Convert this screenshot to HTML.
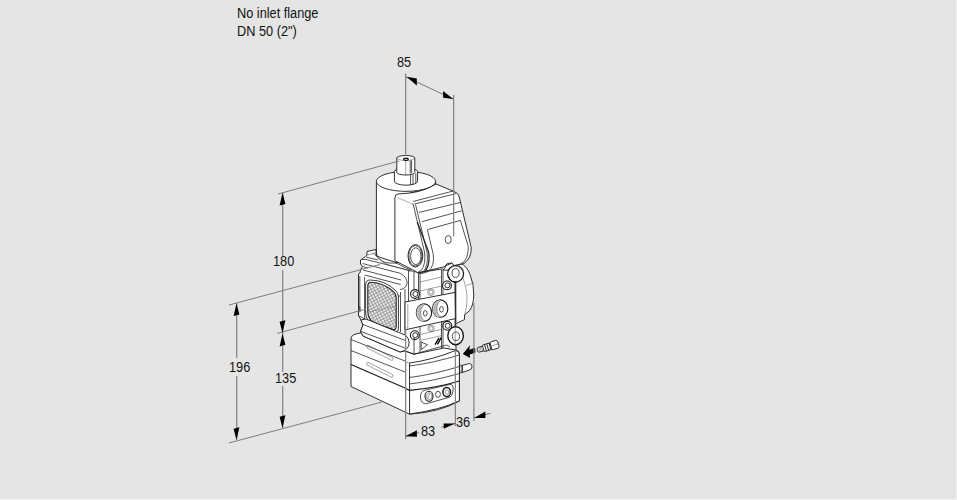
<!DOCTYPE html>
<html><head><meta charset="utf-8">
<style>
html,body{margin:0;padding:0;}
body{width:957px;height:500px;background:#e5e5e5;position:relative;overflow:hidden;font-family:"Liberation Sans",sans-serif;}
.edge-r{position:absolute;right:0;top:0;width:1px;height:500px;background:#f2f2f2;}
.edge-b{position:absolute;left:0;bottom:0;width:957px;height:1px;background:#f2f2f2;}
.t{position:absolute;font-size:14px;line-height:18px;color:#111;white-space:nowrap;transform:scaleX(0.91);transform-origin:0 0;}
svg{position:absolute;left:0;top:0;}
.dm{stroke:#7c7c7c;stroke-width:1;fill:none;}
.ar{fill:#000;stroke:none;}
.v{stroke:#858585;stroke-width:1.25;}
.o{stroke:#1a1a1a;stroke-width:0.9;fill:#fff;stroke-linejoin:round;}
.l{stroke:#1a1a1a;stroke-width:0.75;fill:none;}
.th{stroke:#444;stroke-width:0.5;fill:none;}
</style></head>
<body>
<div class="t" style="left:236.6px;top:4px;">No inlet flange</div>
<div class="t" style="left:236.6px;top:22px;">DN 50 (2")</div>
<div class="t" style="left:397px;top:53px;">85</div>
<div class="t" style="left:273px;top:252px;">180</div>
<div class="t" style="left:229px;top:358px;">196</div>
<div class="t" style="left:275px;top:369px;">135</div>
<div class="t" style="left:420.8px;top:422px;">83</div>
<div class="t" style="left:456px;top:412.5px;">36</div>
<svg width="957" height="500" viewBox="0 0 957 500">
 <defs>
  <pattern id="mesh" x="0" y="0" width="2.9" height="2.9" patternUnits="userSpaceOnUse" patternTransform="rotate(-28)">
   <rect width="2.9" height="2.9" fill="#8f8f8f"/>
   <rect x="0.8" y="0.8" width="2" height="2" fill="#f8f8f8"/>
  </pattern>
 </defs>
 <!-- ===== DEVICE ===== -->
 <g id="dev">
  <!-- right bulge behind -->
  <path class="o" d="M460,263 Q467,266 470,274.5 Q474,284 473.8,295 Q473.5,305 469.7,310.5 L464.5,315 L464.5,319.5 L458.5,322.5 L455,324 L455,266 Z"/>
  <path class="th" d="M456.2,282.7 L456.2,322 M463.2,278.2 Q466.4,287 467,296 Q467,308 464.5,315 M466.4,285.4 L473.6,283"/>

  <!-- lower actuator box: left face -->
  <path class="o" d="M351,339 Q351,335 356,334 L372,330 L456,350 Q459.4,351 459.4,354 L459.4,401 Q440,412 409.6,414.2 L351,386.5 Z"/>
  <path class="l" d="M351,339.5 L405,361 M351,350.5 L405,372 M405.5,361 L405.5,413.5"/>
  <path class="l" style="stroke-width:1.2" d="M351,364.5 L405,388"/>
  <path class="th" d="M367.5,345 L392.5,357.5 Q394,360 392,360.5 L367,348 Q366,346 367.5,345 Z M367.5,362 L392.5,374.5 Q394,377 392,377.5 L367,365 Q366,363 367.5,362 Z"/>
  <!-- front face -->
  <path class="o" d="M409.5,363 Q432,360 455.5,350.5 Q459.4,351 459.4,354.5 L459.4,400.8 Q440,410 409.6,414 Z"/>
  <path class="l" d="M409.5,366 Q433,363 459.4,355 M409.5,377.5 Q433,374.5 459.4,366.5 M409.5,384 Q433,381 459.4,373.5"/>
  <path class="l" style="stroke-width:1.2" d="M405,388.2 L409.6,390.4 Q436,388 459.4,381"/>
  <path class="th" d="M405.5,361 Q406,363 409.5,363"/>
  <!-- holes panel -->
  <path class="l" d="M424.9,390.2 L449.9,384.4 Q454,384 453,391 Q452,396.5 449.9,397.2 L426.8,403.6 Q421,404.5 420.4,397 Q420.5,391 424.9,390.2 Z"/>
  <ellipse class="l" style="stroke-width:1.1" cx="429" cy="396.3" rx="4" ry="5"/>
  <ellipse class="th" cx="429.2" cy="396.3" rx="2.6" ry="3.4"/>
  <path class="th" d="M427.5,399 L430,393"/>
  <ellipse class="l" cx="438" cy="394.3" rx="2.4" ry="3"/>
  <ellipse class="l" style="stroke-width:1.5" cx="446.7" cy="392.1" rx="3.8" ry="4.6"/>
  <ellipse class="th" cx="446.9" cy="392.1" rx="1.8" ry="2.2"/>
  <!-- nipple right of box -->
  <path class="o" d="M462,365.5 L469.5,363.5 Q472.5,364 472,367 Q471.5,369.5 469.5,370 L462,372.5 Z"/>
  <ellipse class="l" cx="461" cy="369" rx="1.6" ry="4.2"/>

  <!-- cylinder coil -->
  <path class="o" d="M376.4,181.4 L376.4,255 Q377,261 386,262 L395,262.5 L436,262 L435.6,181.4 Z"/>
  <ellipse class="o" cx="406" cy="181.4" rx="29.6" ry="9.95"/>
  <path class="l" d="M410,192.6 Q425,190.5 433.8,186"/>

  <!-- knob -->
  <path class="o" d="M394.4,171.5 L394.4,181.2 A11.6,4 0 0 0 417.6,181.2 L417.6,171.5 A11.6,3.5 0 0 0 394.4,171.5 Z"/>
  <path class="l" d="M410.6,174.5 L410.6,184.8 M413,174.5 L413,184.3 M415.8,173.5 L415.8,183"/>
  <path class="o" d="M396.8,158 L396.8,172.5 A9,2.5 0 0 0 414.8,172.5 L414.8,158 A9,2.5 0 0 0 396.8,158 Z"/>
  <path class="th" d="M396.8,158 A9,2.5 0 0 0 414.8,158 M405.7,160.5 L405.7,175"/>
  <path class="l" d="M410.2,160.5 L410.2,173.5 M411.6,160.3 L411.6,173.2"/>
  <ellipse style="stroke:#000;stroke-width:1.2;fill:#fff" cx="406" cy="159.3" rx="2.3" ry="1.1"/>

  <!-- upper valve body silhouette -->
  <path class="o" d="M367,251.5 L376,249.5 L376,256 L396,262.5 L455,266 L456,350 L444,348 L414,354.2 L405,351 L400,352 L363,336 L360.5,331.5 L363,325 L361,320 L358.5,315.4 L358.5,274 L360,273 L360.5,270 L362.5,266.5 L360.5,264 L360.5,260 L362,259 L365.5,256.5 L367,255 Z"/>
  <!-- cylinder foot flare -->
  <path class="l" d="M376.4,253 Q377,259 385,262.5 Q391,263.5 395,263 Q399,264 402,266 Q406,268 411,270"/>
  <path class="th" d="M377,257.5 Q382,263 390,265.5 Q400,268 411,271.5"/>
  <path class="th" d="M367,255 L375.5,253 M372,253 L378,256.5"/>
  <!-- flange ribs -->
  <path class="l" d="M362,259.5 L366,259.5 L418,272.5 M366,257 L378,260 M362.5,263.5 L401,273.5 M362.5,266.5 L368,268 M363,270 L401,280 M364.5,275 L400.5,284.5"/>
  <path class="l" d="M401,274 Q406,276 407.2,282.5 Q407,287 403.5,288.5 Q401.5,289.5 400,289.5"/>
  <!-- side frame -->
  <path class="l" d="M358.3,315.4 L364.6,319 M359.8,276 L359.8,312.4 M364.6,277 L364.6,319 M358.3,306.7 L360,307.2 L360,311.8"/>
  <!-- mesh -->
  <path class="o" style="stroke:#222;stroke-width:0.9" d="M365.6,285 Q365.6,279.8 370.5,280 L377.5,280.8 Q384,282 390,286 L395,290 Q398.4,292.8 398.4,297 L398.4,328 Q398.4,333 394,331.8 L378,326.5 Q370,323.5 367.5,319.5 Q365.6,316.5 365.6,312 Z"/>
  <path style="fill:url(#mesh);stroke:#222;stroke-width:1.1" d="M367.8,286 Q367.8,282.2 371,282.3 L377.2,283 Q383,284.3 388.8,288 L393.5,291.6 Q396.2,294 396.2,297.5 L396.2,326.5 Q396.2,330.3 392.8,329.3 L378.5,324.4 Q371.5,321.8 369.5,318.5 Q367.8,315.8 367.8,311.5 Z"/>
  <path class="th" style="stroke:#777" d="M368,312 L396,306"/>
  <!-- right pillar of side -->
  <path class="l" d="M400.5,292 L400.5,332 M405,289 L405,340 M398,296 L400.5,296"/>
  <!-- columns -->
  <path class="l" d="M408.5,270 L408.5,302 M414,272 L414,289 M418.5,273 L418.5,300 M420,273 L420,352 M441.5,270 L441.5,348 M443,270 L443,348 M455,266 L455,345"/>
  <path class="th" d="M420,282 L441.5,277 M420,291 L441.5,286 M421,334.4 L441.5,329.4 M421,340.2 L441.5,335.7 M418,273 L443,269"/>
  <!-- middle plate band -->
  <path class="o" d="M405,302 L455,292.4 L455.4,318.6 L405,329.9 Z"/>
  <path class="th" d="M407.8,304 L407.8,328.5"/>
  <!-- knobs -->
  <ellipse class="o" style="stroke-width:1.1" cx="424" cy="312.7" rx="7.65" ry="8.8"/>
  <path style="fill:#c4c4c4;stroke:none" d="M424,303.9 A7.65,8.8 0 0 0 424,321.5 L426.2,321.2 A5.6,8.5 0 0 1 426.2,304.2 Z"/>
  <path class="th" d="M426.2,304.2 A5.6,8.5 0 0 0 426.2,321.2"/>
  <path class="th" style="stroke:#666" d="M419,308.7 L420.5,307.7 M418,311.7 L419.5,310.7 M418,314.7 L419.5,313.7 M418.5,317.7 L420,316.7"/>
  <ellipse class="l" cx="425.3" cy="313.3" rx="1.9" ry="2.8"/>
  <ellipse class="o" style="stroke-width:1.1" cx="440.2" cy="308.7" rx="7.65" ry="8.8"/>
  <path style="fill:#c4c4c4;stroke:none" d="M440.2,299.9 A7.65,8.8 0 0 0 440.2,317.5 L442.4,317.2 A5.6,8.5 0 0 1 442.4,300.2 Z"/>
  <path class="th" d="M442.4,300.2 A5.6,8.5 0 0 0 442.4,317.2"/>
  <path class="th" style="stroke:#666" d="M435.2,304.7 L436.7,303.7 M434.2,307.7 L435.7,306.7 M434.2,310.7 L435.7,309.7 M434.7,313.7 L436.2,312.7"/>
  <ellipse class="l" cx="441.5" cy="309.3" rx="1.9" ry="2.8"/>
  <!-- screws -->
  <g class="o" style="stroke-width:1.1">
   <circle cx="415" cy="294" r="4.4"/><circle cx="447" cy="285.4" r="4.4"/>
   <circle cx="414.8" cy="335.2" r="4.4"/><circle cx="447.3" cy="325.8" r="4.4"/>
  </g>
  <g class="l" style="stroke-width:0.9">
   <circle cx="415.4" cy="294" r="2.5"/><circle cx="447.4" cy="285.4" r="2.5"/>
   <circle cx="415.2" cy="335.2" r="2.5"/><circle cx="447.7" cy="325.8" r="2.5"/>
  </g>
  <g class="th">
   <circle cx="431" cy="292.2" r="3.3"/><circle cx="431" cy="292.2" r="2"/>
   <circle cx="431.1" cy="328.5" r="3.3"/><circle cx="431.1" cy="328.5" r="2"/>
  </g>
  <!-- symbols -->
  <path class="l" d="M421.2,342 L427.5,344.7 L421.2,349.7 Z"/>
  <path style="stroke:#000;stroke-width:1.3;fill:none" d="M435,344.6 L439,337.8 M437.4,344.4 L441.2,337.6"/>
  <path class="l" d="M405,351 L414,354.2 L446.6,345 L450,347 M414,338 L414,354.2"/>
  <!-- lower eyelet -->
  <ellipse class="o" style="stroke-width:1.4" cx="455.6" cy="335.7" rx="7.8" ry="9"/>
  <ellipse class="l" cx="456" cy="336.3" rx="3.6" ry="4.3"/>
  <path class="th" d="M455.2,325 L455.2,346"/>
  <!-- bottom lip -->
  <path class="o" d="M361,320 L366,319 L405,335 Q409.5,338 409,344 Q408.5,350 400,352 L363,336 L360.5,331.5 L363,325 Z"/>
  <path class="l" d="M363,324.5 L405.5,340.5 M361,331.5 L405,348"/>

  <!-- cover housing -->
  <path class="o" d="M398,194 L410,193 Q425,191 436,184 L454,191.5 Q458,193 459,196 L471.2,247.4 Q471.8,258 464,263.5 L455.6,265.6 L453.2,265.4 L452,263 L447.2,263.6 L444.8,266.6 L418,273 L416,271.5 L394.9,260.7 L394.9,198 Q395,194 398,194 Z"/>
  <path class="th" style="stroke:#999;stroke-width:0.8" d="M397.8,197.6 L413,204.5"/>
  <!-- frame band -->
  <path class="l" d="M413,201.5 L454,190.8 M414.5,204 L456,193.6"/>
  <path class="l" d="M413,203.5 L424.5,252 Q426,264 421.5,270 L417.8,272.5 L443,268.8"/>
  <path class="l" d="M415.5,204.5 L427,252 Q429,266 422.5,272.8"/>
  <path style="stroke:#2a2a2a;stroke-width:1.3;fill:none" d="M417.2,222 L428.6,252 Q430.4,264.5 425,271.5"/>
  <path class="l" d="M427.5,230 L433.2,254 Q435,266 428,271.5 Q424.5,273.5 419.2,273.6"/>
  <path class="l" d="M419,212.4 L460.3,202.5 M422,221.7 L461.6,210.8"/>
  <path class="l" d="M427.5,229.6 L460.4,220.4 L468.2,246.2 Q468.7,256 464,261.8 Q460,265 454.4,265.4"/>
  <ellipse class="l" cx="448.2" cy="239.6" rx="3" ry="4"/>
  <!-- round button -->
  <ellipse class="o" cx="415.4" cy="255.8" rx="7.4" ry="11.2"/>
  <ellipse class="l" cx="415.4" cy="255.8" rx="6.6" ry="10.3"/>
  <ellipse class="l" cx="415.8" cy="256.2" rx="5.2" ry="8.4"/>
  <!-- upper eyelet -->
  <path class="o" d="M443.2,270.2 L446.4,265.4 L452,263 L453.4,265.4 L453.6,270 Z"/>
  <ellipse class="o" style="stroke-width:1.3" cx="455.6" cy="273.8" rx="8" ry="8.2"/>
  <path style="stroke:#111;stroke-width:1;fill:none" d="M448.6,276 Q450,282.5 456.5,282.6"/>
  <ellipse class="l" cx="455.6" cy="273" rx="3.6" ry="4.4"/>

  <!-- fitting + arrow right -->
  <path class="ar" d="M462.8,354 L470,345.2 L469.3,349.8 L475,347.8 L475.5,352.5 L469.8,354.4 L470,358 Z"/>
  <g transform="translate(477.5,350.2) rotate(-17) scale(0.93)">
   <rect class="o" x="0" y="-2.6" width="7.5" height="5.2" rx="1.5"/>
   <path class="th" d="M2,-2.4 L2,2.4 M3.5,-2.4 L3.5,2.4 M5,-2.5 L5,2.5"/>
   <rect class="o" x="6.5" y="-3.7" width="9" height="7.4" rx="0.8"/>
   <path class="l" style="stroke-width:1" d="M9,-3.6 L9,3.6 M11.5,-3.6 L11.5,3.6 M14,-3.6 L14,3.6"/>
   <rect class="o" x="15" y="-4.4" width="8.5" height="8.8" rx="2"/>
   <path class="th" d="M15,0 L23.5,0"/>
  </g>
 </g>
 <!-- dimension lines -->
 <g class="dm">
  <line class="v" x1="405.65" y1="73.5" x2="405.65" y2="156"/>
  <line class="v" x1="453.65" y1="95" x2="453.65" y2="236.5"/>
  <line x1="406" y1="77" x2="453" y2="99"/>
  <line x1="278" y1="194" x2="399" y2="161"/>
  <line class="v" x1="282.7" y1="193" x2="282.7" y2="256"/>
  <line class="v" x1="282.7" y1="270" x2="282.7" y2="372"/>
  <line class="v" x1="282.7" y1="386" x2="282.7" y2="428"/>
  <line x1="229" y1="305" x2="380" y2="264.5"/>
  <line x1="277" y1="333.5" x2="366" y2="309"/>
  <line class="v" x1="236.7" y1="303" x2="236.7" y2="358"/>
  <line class="v" x1="236.7" y1="376" x2="236.7" y2="440"/>
  <line x1="229" y1="443" x2="382" y2="402"/>
  <line class="v" x1="405.65" y1="327" x2="405.65" y2="439.3"/>
  <line x1="405.5" y1="436.3" x2="419" y2="432.6"/>
  <line x1="441.2" y1="427.3" x2="455" y2="423.5"/>
  <line class="v" x1="455.4" y1="350" x2="455.4" y2="426"/>
  <line class="v" x1="473.9" y1="303" x2="473.9" y2="421"/>
  <line x1="474" y1="417.9" x2="490.4" y2="413.2"/>
 </g>

 <g class="ar">
  <!-- 85 arrows -->
  <path d="M406.5,76.7 L416.8,78.4 L416.8,85.4 Z"/>
  <path d="M453.3,99.1 L443.1,91 L443.1,97.7 Z"/>
  <path d="M282.5,192.8 L279.6,205.6 L285.4,204.0 Z"/>
  <path d="M282.5,333 L279.6,321.8 L285.4,320.2 Z"/>
  <path d="M282.5,333.6 L279.6,346.4 L285.4,344.8 Z"/>
  <path d="M282.5,428 L279.6,416.8 L285.4,415.2 Z"/>
  <path d="M236.5,303.2 L233.6,316.0 L239.4,314.4 Z"/>
  <path d="M236.5,440 L233.6,428.8 L239.4,427.2 Z"/>
  <path d="M405.5,436.3 L416.9,430.3 L416.9,436.8 Z"/>
  <path d="M455.1,423.4 L443.7,423.4 L443.7,428.8 Z"/>
  <path d="M474,417.9 L485.4,411.5 L485.4,417.9 Z"/>
 </g>
</svg>
<div class="edge-r"></div><div class="edge-b"></div>
</body></html>
